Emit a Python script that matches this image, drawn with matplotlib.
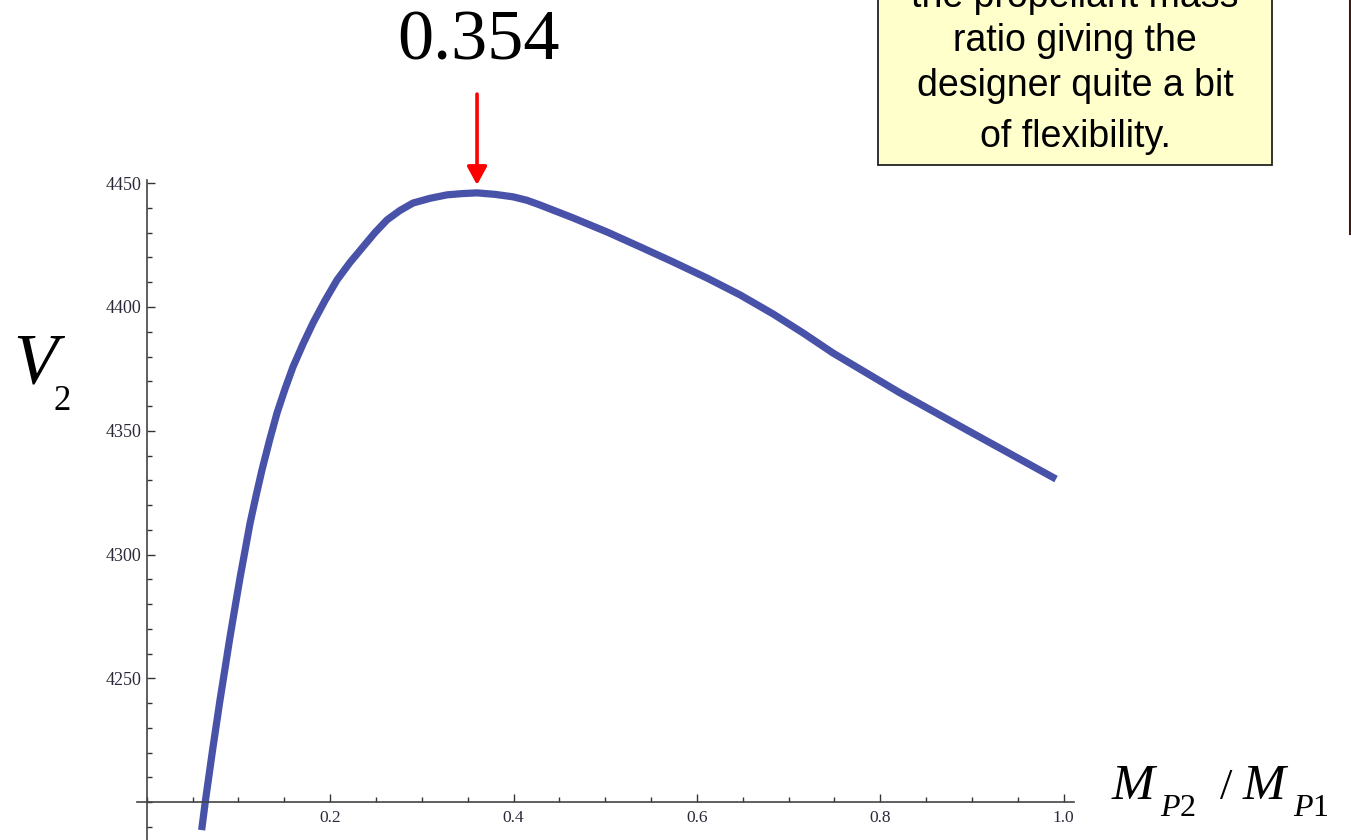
import matplotlib
matplotlib.use("Agg")
import matplotlib.pyplot as plt
from matplotlib.patches import Rectangle
from matplotlib.lines import Line2D
from matplotlib.ticker import MultipleLocator

plt.rcParams['mathtext.fontset'] = 'custom'
plt.rcParams['mathtext.rm'] = 'Liberation Serif'
plt.rcParams['mathtext.it'] = 'Liberation Serif:italic'

# Curve: V2 against propellant mass ratio M_P2 / M_P1
ratio = [0.0599, 0.0641, 0.0718, 0.0799, 0.0839, 0.0908, 0.0976, 0.1017,
         0.1127, 0.1192, 0.1257, 0.1339, 0.1421, 0.1508, 0.1595, 0.1705,
         0.1814, 0.1944, 0.2075, 0.2217, 0.2359, 0.2490, 0.2621, 0.2762,
         0.2904, 0.3089, 0.3275, 0.3438, 0.3602, 0.3798, 0.3995, 0.4147,
         0.4289, 0.4469, 0.4649, 0.5020, 0.5380, 0.5740, 0.6110, 0.6470,
         0.6830, 0.7158, 0.7484, 0.8215, 0.8945, 0.9916]
v2 = [4188.7, 4200.8, 4221.0, 4241.2, 4250.5, 4266.7, 4281.6, 4290.5,
      4312.7, 4323.7, 4334.2, 4346.1, 4357.2, 4366.9, 4375.8, 4385.1,
      4393.6, 4402.6, 4410.9, 4418.0, 4424.3, 4430.1, 4435.2, 4439.0,
      4442.0, 4443.9, 4445.3, 4445.8, 4446.1, 4445.5, 4444.5, 4443.1,
      4441.2, 4438.6, 4436.0, 4430.3, 4424.3, 4418.2, 4411.7, 4404.9,
      4397.2, 4389.5, 4381.4, 4365.3, 4350.3, 4330.5]

x_ticks = [0.2, 0.4, 0.6, 0.8, 1.0]
y_ticks = [4250, 4300, 4350, 4400, 4450]
peak_x = 0.3602
peak_label = "0.354"

note_lines = ["the propellant mass", "ratio giving the",
              "designer quite a bit", "of flexibility."]

W, H = 1351, 840
fig = plt.figure(figsize=(W / 100, H / 100), dpi=100)


def fx(px):
    return px / W


def fy(py):
    return 1 - py / H


ax = fig.add_axes([fx(137), 0, (1074 - 137) / W, (840 - 180) / H])
ax.set_xlim(-0.0106, 1.0112)
ax.set_ylim(4184.7, 4451.3)

ax.plot(ratio, v2, color='#4852A8', lw=5.2, solid_capstyle='butt',
        solid_joinstyle='round', clip_on=False)

for s in ['top', 'right']:
    ax.spines[s].set_visible(False)
ax.spines['left'].set_position(('data', 0))
ax.spines['bottom'].set_position(('data', 4200))
for s in ['left', 'bottom']:
    ax.spines[s].set_color('#444444')
    ax.spines[s].set_linewidth(1.2)

ax.set_xticks(x_ticks)
ax.set_xticklabels(["%.1f" % t for t in x_ticks])
ax.set_yticks(y_ticks)
ax.set_yticklabels([str(t) for t in y_ticks])
ax.xaxis.set_minor_locator(MultipleLocator(0.05))
ax.yaxis.set_minor_locator(MultipleLocator(10))
ax.tick_params(which='both', direction='in', color='#333333', width=1.0,
               labelcolor='#2a2a3a')
ax.tick_params(which='major', length=5.5)
ax.tick_params(which='minor', length=3.5)
ax.tick_params(axis='x', pad=6, labelsize=12.5)
ax.tick_params(axis='y', pad=4, labelsize=13)
for lab in ax.get_xticklabels() + ax.get_yticklabels():
    lab.set_fontfamily('Liberation Serif')

# peak marker
ax.annotate('', xy=(peak_x, 4449.3), xytext=(peak_x, 4486),
            arrowprops=dict(arrowstyle='-|>,head_length=0.55,head_width=0.3',
                            mutation_scale=20, color='#FF0000', lw=2.6,
                            shrinkA=0, shrinkB=0),
            annotation_clip=False)
ax.text(peak_x + 0.002, 4499.8, peak_label, ha='center', va='baseline',
        fontsize=52, family='Liberation Serif', clip_on=False)

# axis labels
fig.text(fx(13), fy(383), r'$V$', fontsize=52, ha='left', va='baseline')
fig.text(fx(54), fy(410), '2', fontsize=25, family='Liberation Serif',
         ha='left', va='baseline')

fig.text(fx(1111), fy(799), r'$M$', fontsize=37, ha='left', va='baseline')
fig.text(fx(1160), fy(816), r'$P\mathrm{2}$', fontsize=23, ha='left', va='baseline')
fig.text(fx(1220), fy(799), '/', fontsize=32, family='Liberation Serif',
         ha='left', va='baseline')
fig.text(fx(1242), fy(799), r'$M$', fontsize=37, ha='left', va='baseline')
fig.text(fx(1293), fy(816), r'$P\mathrm{1}$', fontsize=23, ha='left', va='baseline')

# note box (top cut off by the slide edge)
fig.patches.append(Rectangle((fx(878), fy(165)), (1272 - 878) / W, (165 + 20) / H,
                             transform=fig.transFigure, facecolor='#FFFFCC',
                             edgecolor='#222222', lw=1.3, zorder=0))
for line, base in zip(note_lines, [7, 51, 96, 147]):
    fig.text(fx(1075), fy(base), line, fontsize=27, family='Liberation Sans',
             ha='center', va='baseline')

fig.add_artist(Line2D([fx(1349.5), fx(1349.5)], [fy(0), fy(233)],
                      color='#3b1c12', lw=2.2))

fig.savefig('out.png', dpi=100)
